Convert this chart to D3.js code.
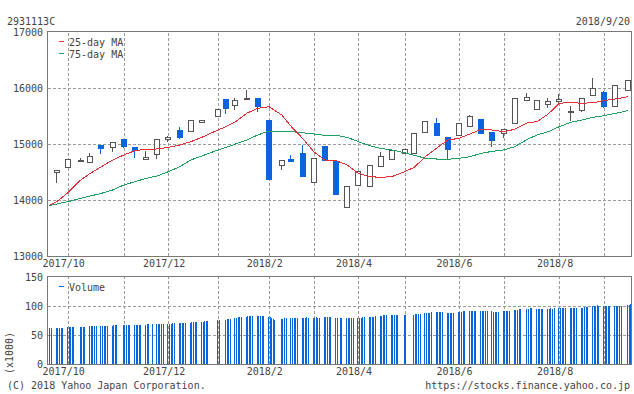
<!DOCTYPE html>
<html lang="en">
<head>
<meta charset="UTF-8">
<title>2931113C</title>
<script src="https://cdn.jsdelivr.net/npm/d3@7"></script>
<style>
  * { margin: 0; padding: 0; }
  body { background: #fff; }
  svg text { font-family: "DejaVu Sans Mono", monospace; font-size: 10px; fill: #444; }
  .grid line { stroke: #9a9a9a; stroke-dasharray: 3, 2; shape-rendering: crispEdges; }
  .grid path, .axis path { display: none; }
  .frame { fill: none; stroke: #777; shape-rendering: crispEdges; }
  .wick { shape-rendering: crispEdges; }
  .ma { fill: none; stroke-width: 1; shape-rendering: crispEdges; }
</style>
</head>
<body>
<div id="app"></div>
<script>
  // weekly candles, dated by the first trading day of each week
  const weeks = ["2017-09-25","2017-10-02","2017-10-10","2017-10-16","2017-10-23","2017-10-30","2017-11-06","2017-11-13",
    "2017-11-20","2017-11-27","2017-12-04","2017-12-11","2017-12-18","2017-12-25","2018-01-04","2018-01-09","2018-01-15",
    "2018-01-22","2018-01-29","2018-02-05","2018-02-13","2018-02-19","2018-02-26","2018-03-05","2018-03-12","2018-03-19",
    "2018-03-26","2018-04-02","2018-04-09","2018-04-16","2018-04-23","2018-05-01","2018-05-07","2018-05-14","2018-05-21",
    "2018-05-28","2018-06-04","2018-06-11","2018-06-18","2018-06-25","2018-07-02","2018-07-09","2018-07-17","2018-07-23",
    "2018-07-30","2018-08-06","2018-08-13","2018-08-20","2018-08-27","2018-09-03","2018-09-10","2018-09-18"];

  const open  = [14500,14585,14700,14690,14975,14940,15084,14940,14727,14834,15084,15245,15227,15390,15512,15798,15691,15805,
    15821,15429,14619,14732,14839,14316,14964,14696,13870,14262,14237,14602,14727,14834,14827,15209,15375,15125,15155,15316,
    15446,15220,15190,15375,15780,15620,15727,15762,15575,15595,15870,15923,15673,15964];
  const high  = [14540,14732,14745,14835,14978,15030,15086,14942,14870,15095,15138,15310,15423,15429,15630,15798,15821,15964,
    15821,15429,14714,14804,14982,14750,14964,14696,14245,14512,14619,14857,14887,14905,15190,15405,15464,15125,15369,15518,
    15446,15220,15262,15816,15911,15780,15827,15887,15679,15816,16173,15946,16048,16137];
  const low   = [14310,14585,14680,14690,14827,14850,14934,14755,14727,14727,15042,15095,15227,15390,15512,15541,15613,15800,
    15577,14363,14530,14684,14417,14316,14690,14095,13870,14262,14237,14602,14727,14834,14827,15209,15149,14727,15155,15316,
    15184,14952,15102,15375,15780,15620,15648,15727,15417,15580,15870,15648,15673,15964];
  const close = [14530,14730,14712,14790,14905,15030,14934,14865,14768,15095,15120,15095,15423,15429,15630,15613,15780,15815,
    15667,14363,14714,14684,14417,14750,14702,14095,14245,14512,14619,14780,14887,14905,15190,15405,15149,14898,15369,15494,
    15184,15060,15262,15816,15834,15780,15774,15798,15585,15816,15995,15648,16048,16137];

  // moving averages: one point at the left edge, then one per week
  const maDates = ["2017-09-20"].concat(weeks);
  const ma25 = [13898,13970,14130,14357,14477,14595,14714,14804,14881,14905,14911,14940,14982,15042,15120,15250,15310,15399,
    15548,15637,15667,15518,15310,15102,14863,14714,14702,14625,14477,14417,14405,14417,14506,14583,14774,14923,15071,15101,
    15179,15262,15250,15220,15262,15381,15399,15536,15727,15744,15727,15738,15774,15804,15845];
  const ma75 = [13898,13929,13970,14030,14071,14119,14179,14268,14327,14387,14429,14506,14595,14714,14786,14893,14940,15000,
    15071,15161,15232,15232,15220,15202,15179,15155,15155,15119,15042,14970,14923,14893,14845,14798,14744,14732,14727,14744,
    14774,14834,14869,14893,14952,15084,15161,15220,15310,15387,15429,15476,15506,15548,15595];

  // daily volume (x1000), grouped by week; first group is 9/21-9/22
  const holidays = ["2017-10-09","2017-11-03","2017-11-23","2018-01-01","2018-01-02","2018-01-03","2018-01-08","2018-02-12",
    "2018-03-21","2018-04-30","2018-05-03","2018-05-04","2018-07-16","2018-09-17"];
  const volWeeks = [
    [62.4,62.5],
    [62.5,62.6,62.6,62.7,62.8],[63.2,63.4,63.5,63.6,63.8],[64.0,64.1,64.3,64.4],[64.8,65.0,65.1,65.3,65.5],
    [65.6,65.8,65.9,66.0,66.2],[66.3,66.4,66.6,66.7],[66.8,67.0,67.1,67.2,67.4],[67.4,67.6,67.7,67.8,67.9],
    [68.0,68.2,68.4,68.5],[68.7,68.9,69.0,69.2,69.3],[69.5,69.7,69.8,70.0,70.2],[70.4,70.6,70.8,71.0,71.1],
    [71.3,71.6,71.8,72.0,72.2],[72.6,73.0,73.3,73.6,74.0],[75.2,75.8],[76.5,77.0,77.6,78.0],
    [79.0,79.6,80.2,80.8,81.2],[81.8,82.2,82.5,82.8,83.0],[83.0,82.8,82.6,82.8,82.5],[81.5,80.8,79.5,78.0,76.5],
    [77.5,78.2,78.8,79.2],[79.0,78.8,79.2,79.4,79.5],[79.6,80.0,79.8,80.2,80.0],[79.5,79.8,80.2,80.0,79.6],
    [80.4,80.8,81.2,81.0,80.6],[80.0,79.5,79.2,79.0],[78.8,79.2,79.5,79.0,78.6],[79.2,79.6,80.0,80.4,80.8],
    [81.0,81.3,81.6,81.8,82.0],[82.8,83.4,83.8,84.0,84.2],[84.2,84.4,84.6,84.5,84.6],[84.5,84.7],
    [85.0,85.5,86.0,86.5,87.0],[87.6,88.0,88.4,88.6,88.8],[89.2,89.6,90.0,90.2,90.0],[88.5,88.0,87.6,88.0,88.4],
    [89.5,90.0,90.5,90.8,91.0],[91.2,91.4,91.5,91.4,91.3],[91.3,91.5,91.6,91.4,91.2],[90.6,90.2,90.0,90.0,90.2],
    [90.8,91.2,91.4,91.6,91.5],[92.5,93.0,93.5,94.0,94.4],[95.2,95.6,96.0,96.0],[95.4,95.0,95.2,95.4,95.6],
    [95.4,95.6,95.8,95.5,95.8],[96.0,96.2,96.0,95.8,96.1],[96.0,95.8,96.1,96.3,96.2],[96.5,97.0,97.6,98.2,98.6],
    [99.4,100.0,100.6,101.0,100.8],[100.2,100.0,100.1,100.3,100.2],[100.0,100.2,100.4,100.3,100.5],[101.4,102.2,103.0]
  ];

  // month gridlines sit on the first candle of each month
  const gridWeeks = ["2017-10-02","2017-11-06","2017-12-04","2018-01-04","2018-02-05","2018-03-05","2018-04-02",
    "2018-05-01","2018-06-04","2018-07-02","2018-08-06","2018-09-03"];
  const gridLabels = ["2017/10","","2017/12","","2018/2","","2018/4","","2018/6","","2018/8",""];
  const priceTicks = [13000, 14000, 15000, 16000, 17000];
  const volTicks = [0, 50, 100, 150];

  const $width = 634, $height = 394;
  const left = 48, right = 632;
  const pTop = 32, pBot = 256, vTop = 277, vBot = 364;
  const upColor = "#0a64dc", wireColor = "#555", redMA = "#e62e37", greenMA = "#1fa060";

  const parse = d3.timeParse("%Y-%m-%d");
  const fmt = d3.timeFormat("%Y-%m-%d");
  const mid = s => d3.timeHour.offset(parse(s), 12);

  const svg = d3.select("#app").append("svg").attr("width", $width).attr("height", $height);

  const x = d3.scaleTime().domain([parse("2017-09-20"), parse("2018-09-21")]).range([left, right]);
  const yP = d3.scaleLinear().domain([13000, 17000]).range([pBot, pTop]);
  const yV = d3.scaleLinear().domain([0, 150]).range([vBot, vTop]);

  /* grids */
  function grids(y, vals, top, bot) {
    svg.append("g").attr("class", "grid").attr("transform", "translate(" + left + ",0)")
      .call(d3.axisLeft(y).tickValues(vals).tickSize(-(right - left)).tickFormat(""));
    svg.append("g").attr("class", "grid").attr("transform", "translate(0," + bot + ")")
      .call(d3.axisBottom(x).tickValues(gridWeeks.map(d => mid(d))).tickSize(-(bot - top)).tickFormat(""));
  }
  grids(yP, [14000, 15000, 16000], pTop, pBot);
  grids(yV, [50, 100], vTop, vBot);

  /* volume bars */
  const holiSet = new Set(holidays);
  const tradeDays = d3.timeDay.range(parse("2017-09-21"), parse("2018-09-21"))
    .filter(d => d.getDay() % 6 !== 0 && !holiSet.has(fmt(d)));
  const vols = volWeeks.flat();
  const volData = tradeDays.map((d, i) => ({ d: d, v: vols[i] })).filter(e => e.v != null);

  svg.append("g").selectAll("rect").data(volData).enter().append("rect")
    .attr("x", d => Math.round(x(d3.timeHour.offset(d.d, 12))) - 1)
    .attr("width", 1.4)
    .attr("y", d => yV(d.v))
    .attr("height", d => yV(0) - yV(d.v))
    .attr("fill", upColor)
    .attr("shape-rendering", "crispEdges");

  /* candles */
  const candles = weeks.map((w, i) => ({ cx: Math.round(x(mid(w))), o: open[i], h: high[i], l: low[i], c: close[i] }));
  const cg = svg.append("g");
  cg.selectAll("line").data(candles).enter().append("line").attr("class", "wick")
    .attr("x1", d => d.cx - 0.5).attr("x2", d => d.cx - 0.5)
    .attr("y1", d => yP(d.h)).attr("y2", d => yP(d.l))
    .attr("stroke", d => d.c >= d.o ? wireColor : upColor);

  cg.selectAll("rect").data(candles).enter().append("rect")
    .attr("shape-rendering", "crispEdges")
    .attr("x", d => d.c >= d.o ? d.cx - 2.5 : d.cx - 3)
    .attr("width", d => d.c >= d.o ? 5 : 6)
    .attr("y", d => Math.round(yP(Math.max(d.o, d.c))) + (d.c >= d.o ? 0.5 : 0))
    .attr("height", d => Math.max(1, Math.round(Math.abs(yP(d.o) - yP(d.c)))))
    .attr("fill", d => d.c >= d.o ? "#fff" : upColor)
    .attr("stroke", d => d.c >= d.o ? wireColor : "none");

  /* moving averages */
  const line = vals => d3.line().x((d, i) => x(mid(maDates[i]))).y(d => yP(d))(vals);
  svg.append("path").attr("class", "ma").attr("d", line(ma75)).attr("stroke", greenMA);
  svg.append("path").attr("class", "ma").attr("d", line(ma25)).attr("stroke", redMA);

  /* frames */
  svg.append("rect").attr("class", "frame").attr("x", left - 0.5).attr("y", pTop - 0.5)
    .attr("width", right - left).attr("height", pBot - pTop + 1);
  svg.append("rect").attr("class", "frame").attr("x", left - 0.5).attr("y", vTop - 0.5)
    .attr("width", right - left).attr("height", vBot - vTop + 1);

  /* axes */
  svg.append("g").attr("class", "axis").attr("transform", "translate(" + left + ",0)")
    .call(d3.axisLeft(yP).tickValues(priceTicks).tickFormat(d3.format("d")).tickSize(0).tickPadding(5));
  svg.append("g").attr("class", "axis").attr("transform", "translate(" + left + ",0)")
    .call(d3.axisLeft(yV).tickValues(volTicks).tickFormat(d3.format("d")).tickSize(0).tickPadding(5));

  const labelled = gridWeeks.filter((d, i) => gridLabels[i] !== "");
  const labelOf = d => gridLabels[gridWeeks.indexOf(fmt(d3.timeHour.offset(d, -12)))];
  [pBot, vBot].forEach(b => {
    svg.append("g").attr("class", "axis").attr("transform", "translate(0," + b + ")")
      .call(d3.axisBottom(x).tickValues(labelled.map(d => mid(d))).tickFormat(labelOf).tickSize(0).tickPadding(4))
      .selectAll("text").attr("dx", -4.8);
  });
  svg.selectAll(".axis text").style("font-family", "DejaVu Sans Mono, monospace").style("font-size", "10px").attr("fill", "#444");

  /* legends */
  const legend = [[redMA, "25-day MA", 41.5], [greenMA, "75-day MA", 53.5], [upColor, "Volume", 286.5]];
  legend.forEach(l => {
    svg.append("line").attr("x1", 59).attr("x2", 64).attr("y1", l[2]).attr("y2", l[2])
      .attr("stroke", l[0]).attr("shape-rendering", "crispEdges");
    svg.append("text").attr("x", 69).attr("y", l[2] + 4).text(l[1]);
  });

  /* texts */
  svg.append("text").attr("x", 7).attr("y", 25).text("2931113C");
  svg.append("text").attr("x", 630).attr("y", 25).attr("text-anchor", "end").text("2018/9/20");
  svg.append("text").attr("x", 7).attr("y", 389).text("(C) 2018 Yahoo Japan Corporation.");
  svg.append("text").attr("x", 630).attr("y", 389).attr("text-anchor", "end").text("https://stocks.finance.yahoo.co.jp");
  svg.append("text").attr("transform", "translate(13,353) rotate(-90)").attr("text-anchor", "middle").text("(x1000)");
</script>
</body>
</html>
